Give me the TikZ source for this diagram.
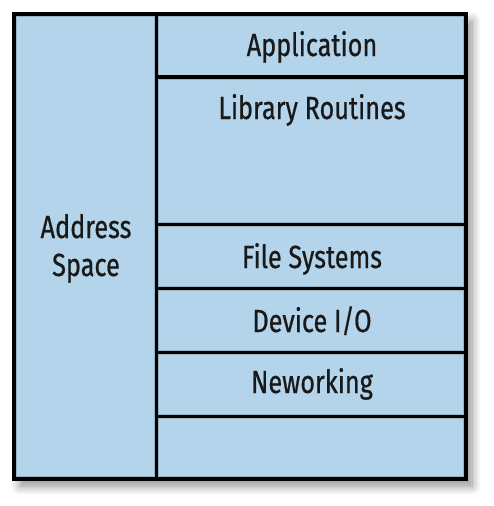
\documentclass[tikz,border=0pt]{standalone}
\usepackage{fontspec}
\setmainfont{Fira Sans}[FakeStretch=0.79, FakeBold=0.6]
\usetikzlibrary{shadows.blur}
\definecolor{cellblue}{RGB}{179,212,234}
\definecolor{celledge}{RGB}{150,180,200}
\tikzset{
  lbl/.style={font=\fontsize{32}{36}\selectfont, text=black!90, anchor=base, inner sep=0pt},
  divider/.style={line width=3.5pt, black},
  cell/.style={draw=celledge, line width=0.8pt}
}
\begin{document}
\begin{tikzpicture}[x=1pt,y=-1pt]
\useasboundingbox (0,0) rectangle (493,506);
% outer box with shadow
\fill[cellblue, blur shadow={shadow xshift=6pt, shadow yshift=-7pt, shadow blur steps=10, shadow opacity=45, shadow blur radius=9pt}] (14,14) rectangle (466,479);
% subtle cell edges
\draw[cell] (16.5,16.5) rectangle (154.5,476.5);
\draw[cell] (158.5,16.5) rectangle (463.5,75);
\draw[cell] (158.5,79) rectangle (463.5,222.5);
\draw[cell] (158.5,226.5) rectangle (463.5,286.5);
\draw[cell] (158.5,290.5) rectangle (463.5,350.5);
\draw[cell] (158.5,354.5) rectangle (463.5,414.5);
\draw[cell] (158.5,418.5) rectangle (463.5,476.5);
% dividers
\coordinate (vt) at (156.5,14);
\coordinate (vb) at (156.5,479);
\draw[divider] (vt) -- (vb);
\foreach \y/\n in {77/a,224.5/b,288.5/c,352.5/d,416.5/e}{
  \coordinate (l\n) at (156.5,\y);
  \coordinate (r\n) at (466,\y);
  \draw[divider] (l\n) -- (r\n);
}
\draw[line width=4.5pt, black] (14,14) rectangle (466,479);
% labels
\node[lbl] (app) at (312,56) {Application};
\node[lbl] (lib) at (312,119) {Library Routines};
\node[lbl] (fs) at (312,268) {File Systems};
\node[lbl] (dev) at (312,332) {Device I/O};
\node[lbl] (net) at (312,393) {Neworking};
\node[lbl] (addr) at (86,238) {Address};
\node[lbl] (space) at (86,276) {Space};
\end{tikzpicture}
\end{document}
